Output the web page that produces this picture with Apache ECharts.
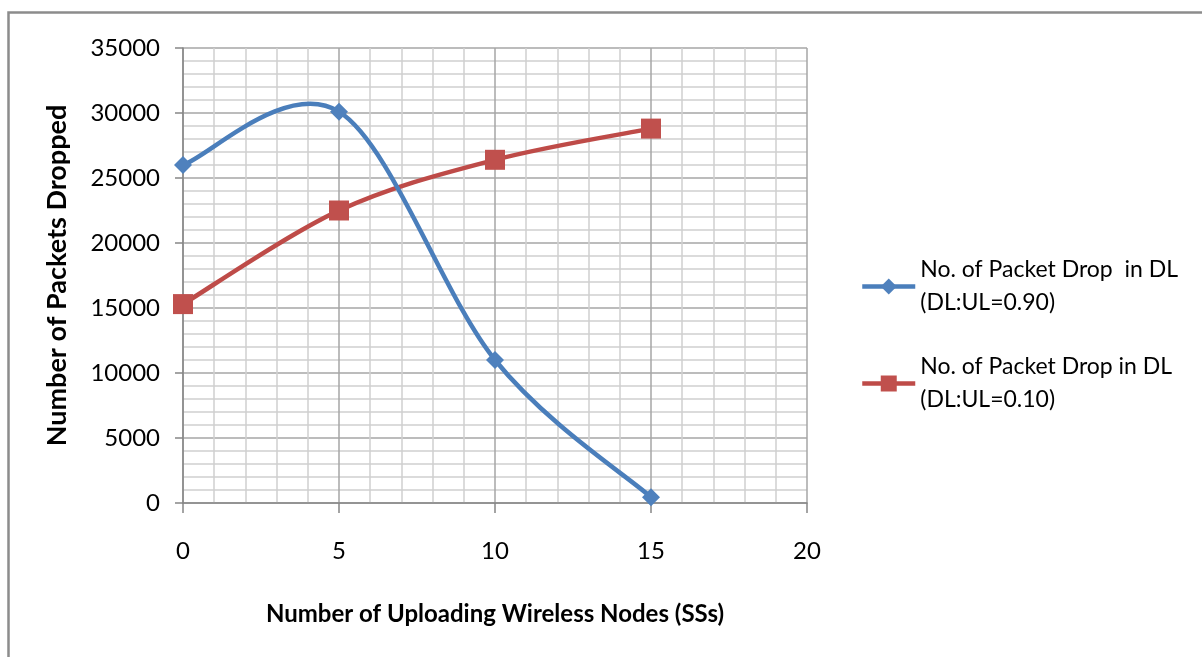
<!DOCTYPE html>
<html>
<head>
<meta charset="utf-8">
<script src="https://cdn.jsdelivr.net/npm/echarts@6/dist/echarts.min.js"></script>
<style>
  html, body { margin: 0; padding: 0; background: #fff; }
  #chart { width: 1202px; height: 657px; }
</style>
</head>
<body>
<div id="chart"></div>
<script>
// Number of uploading wireless nodes (SSs)
const nodes = [0, 5, 10, 15];
// Packets dropped in the downlink for two DL:UL ratios
const dropDL090 = [26000, 30100, 11000, 450];
const dropDL010 = [15300, 22500, 26400, 28800];
const seriesNames = [
  'No. of Packet Drop  in DL\n(DL:UL=0.90)',
  'No. of Packet Drop in DL\n(DL:UL=0.10)'
];
const xTitle = 'Number of Uploading Wireless Nodes (SSs)';
const yTitle = 'Number of Packets Dropped';

const BLUE_LINE = '#4a7ebb', BLUE_MARK = '#4f81bd';
const RED_LINE = '#be4b48', RED_MARK = '#c0504d';
const FONT = 'Lato, "Open Sans", sans-serif';
const chart = echarts.init(document.getElementById('chart'), null, { renderer: 'canvas' });

const pairs = (ys) => nodes.map((x, i) => [x, ys[i]]);

// Smoothed curve through the data points (cardinal spline, converted to
// cubic Bezier segments in pixel space via the axis scales).
function smoothCurve(ys, color) {
  return function (params, api) {
    if (params.dataIndex !== 0) return null;
    const p = nodes.map((x, i) => api.coord([x, ys[i]]));
    const n = p.length;
    const at = (i) => p[Math.max(0, Math.min(n - 1, i))];
    const children = [];
    for (let i = 0; i < n - 1; i++) {
      const p0 = at(i - 1), p1 = at(i), p2 = at(i + 1), p3 = at(i + 2);
      children.push({
        type: 'bezierCurve',
        shape: {
          x1: p1[0], y1: p1[1],
          cpx1: p1[0] + (p2[0] - p0[0]) / 6, cpy1: p1[1] + (p2[1] - p0[1]) / 6,
          cpx2: p2[0] - (p3[0] - p1[0]) / 6, cpy2: p2[1] - (p3[1] - p1[1]) / 6,
          x2: p2[0], y2: p2[1]
        },
        style: { stroke: color, lineWidth: 4.5, fill: null, lineCap: 'round', lineJoin: 'round' }
      });
    }
    return { type: 'group', children: children };
  };
}

const legendText = {
  fontFamily: FONT,
  fontSize: 23,
  color: '#000',
  lineHeight: 33,
  padding: [33, 0, 0, 0]
};

function legendFor(name, top, color) {
  return {
    data: [name],
    left: 855, top: top,
    orient: 'vertical',
    itemWidth: 53, itemHeight: 20,
    itemGap: 0,
    textStyle: legendText,
    lineStyle: { color: color, width: 4.5, opacity: 1 }
  };
}

chart.setOption({
  animation: false,
  backgroundColor: '#fff',
  grid: { left: 183, top: 48, right: 395, bottom: 154, containLabel: false },
  xAxis: {
    type: 'value',
    min: 0, max: 20, interval: 5,
    name: xTitle,
    nameLocation: 'middle',
    nameGap: 99,
    nameTextStyle: { fontFamily: FONT, fontSize: 24, fontWeight: 'bold', color: '#000' },
    axisLine: { show: true, onZero: false, lineStyle: { color: '#868686', width: 1.5 } },
    axisTick: { show: true, inside: false, length: 10, lineStyle: { color: '#868686', width: 1.5 } },
    axisLabel: { margin: 36, fontFamily: FONT, fontSize: 24, color: '#000' },
    splitLine: { show: true, lineStyle: { color: '#a6a6a6', width: 1.5 } },
    minorTick: { show: false, splitNumber: 5 },
    minorSplitLine: { show: true, lineStyle: { color: '#d0d0d0', width: 1.5 } }
  },
  yAxis: {
    type: 'value',
    min: 0, max: 35000, interval: 5000,
    name: yTitle,
    nameLocation: 'middle',
    nameGap: 112,
    nameRotate: 90,
    nameTextStyle: { fontFamily: FONT, fontSize: 27, fontWeight: 'bold', color: '#000' },
    axisLine: { show: true, lineStyle: { color: '#868686', width: 1.5 } },
    axisTick: { show: true, inside: false, length: 8, lineStyle: { color: '#868686', width: 1.5 } },
    axisLabel: { margin: 23, fontFamily: FONT, fontSize: 24, color: '#000', formatter: (v) => String(v) },
    splitLine: { show: true, lineStyle: { color: '#a6a6a6', width: 1.5 } },
    minorTick: { show: false, splitNumber: 5 },
    minorSplitLine: { show: true, lineStyle: { color: '#d0d0d0', width: 1.5 } }
  },
  legend: [
    legendFor(seriesNames[0], 232, BLUE_LINE),
    legendFor(seriesNames[1], 329, RED_LINE)
  ],
  series: [
    {
      type: 'custom',
      renderItem: smoothCurve(dropDL010, RED_LINE),
      data: pairs(dropDL010),
      silent: true,
      z: 1
    },
    {
      type: 'custom',
      renderItem: smoothCurve(dropDL090, BLUE_LINE),
      data: pairs(dropDL090),
      silent: true,
      z: 2
    },
    {
      name: seriesNames[1],
      type: 'line',
      data: pairs(dropDL010),
      symbol: 'rect',
      symbolSize: 20,
      lineStyle: { color: RED_LINE, width: 4.5, opacity: 0 },
      itemStyle: { color: RED_MARK },
      z: 3
    },
    {
      name: seriesNames[0],
      type: 'line',
      data: pairs(dropDL090),
      symbol: 'diamond',
      symbolSize: 18,
      lineStyle: { color: BLUE_LINE, width: 4.5, opacity: 0 },
      itemStyle: { color: BLUE_MARK },
      z: 4
    }
  ],
  graphic: [
    {
      type: 'polyline',
      shape: { points: [[8.5, 657], [8.5, 12.5], [1202, 12.5]] },
      style: { stroke: '#8c8c8c', lineWidth: 2.5, fill: null },
      silent: true
    }
  ]
});
</script>
</body>
</html>
